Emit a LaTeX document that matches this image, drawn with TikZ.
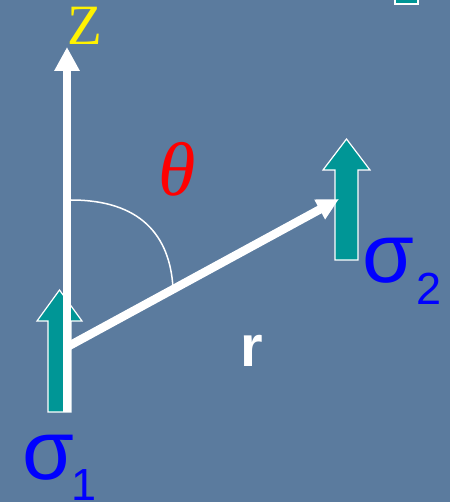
\documentclass[tikz,border=0pt]{standalone}
\usepackage{fontspec}
\setmainfont{Liberation Serif}
\newfontfamily\arialf{Liberation Sans}
\usetikzlibrary{arrows.meta}
\definecolor{bgblue}{RGB}{91,123,158}
\definecolor{spinteal}{RGB}{0,150,150}
\tikzset{
  spinarrow/.style={fill=spinteal, draw=white, line width=1.2pt, line join=miter},
  axisline/.style={draw=white, line width=8pt, -{Triangle[length=24pt,width=24pt]}},
  vecline/.style={draw=white, line width=8.5pt, -{Triangle[length=22pt,width=21pt]}},
  lbl/.style={inner sep=0pt, outer sep=0pt},
}
\begin{document}
\begin{tikzpicture}[x=1pt,y=-1pt]
\fill[bgblue] (0,0) rectangle (450,502);
\useasboundingbox (0,0) rectangle (450,502);
\begin{scope}
\clip (0,0) rectangle (450,502);
% partial spin at top right
\draw[spinarrow] (395,-20) rectangle (418,4);
% spin 1
\draw[spinarrow] (48,412) -- (48,321) -- (37,321) -- (59.5,290) -- (82,321) -- (71,321) -- (71,412) -- cycle;
% coordinates
\coordinate (zbot) at (67,412);
\coordinate (ztip) at (67,47);
\coordinate (orig) at (67,347);
\coordinate (rtip) at (339,199);
\coordinate (arcA) at (71,200);
\coordinate (arcB) at (173,288);
% z axis
\draw[axisline] (zbot) -- (ztip);
% spin 2
\draw[spinarrow] (335,260) -- (335,170) -- (323,170) -- (346.5,139) -- (370,170) -- (358,170) -- (358,260) -- cycle;
% r vector
\draw[vecline] (orig) -- (rtip);
% theta arc
\draw[white, line width=1.5pt] (arcA) .. controls (140,200) and (170,235) .. (arcB);
% labels
\node[lbl, text=yellow] (zlab) at (84.5,26) {\fontsize{57}{57}\selectfont Z};
\node[lbl, text=red] (thlab) at (177,169) {\fontsize{76}{76}\selectfont\itshape θ};
\node[lbl, text=white] (rlab) at (252,351) {\arialf\bfseries\fontsize{58}{58}\selectfont r};
\node[lbl, text=blue] (s1lab) at (48,458) {\arialf\fontsize{84}{84}\selectfont σ};
\node[lbl, text=blue] (s1sub) at (84.5,485.5) {\arialf\fontsize{45}{45}\selectfont 1};
\node[lbl, text=blue] (s2lab) at (388,261) {\arialf\fontsize{84}{84}\selectfont σ};
\node[lbl, text=blue] (s2sub) at (429,289) {\arialf\fontsize{45}{45}\selectfont 2};
\end{scope}
\end{tikzpicture}
\end{document}
